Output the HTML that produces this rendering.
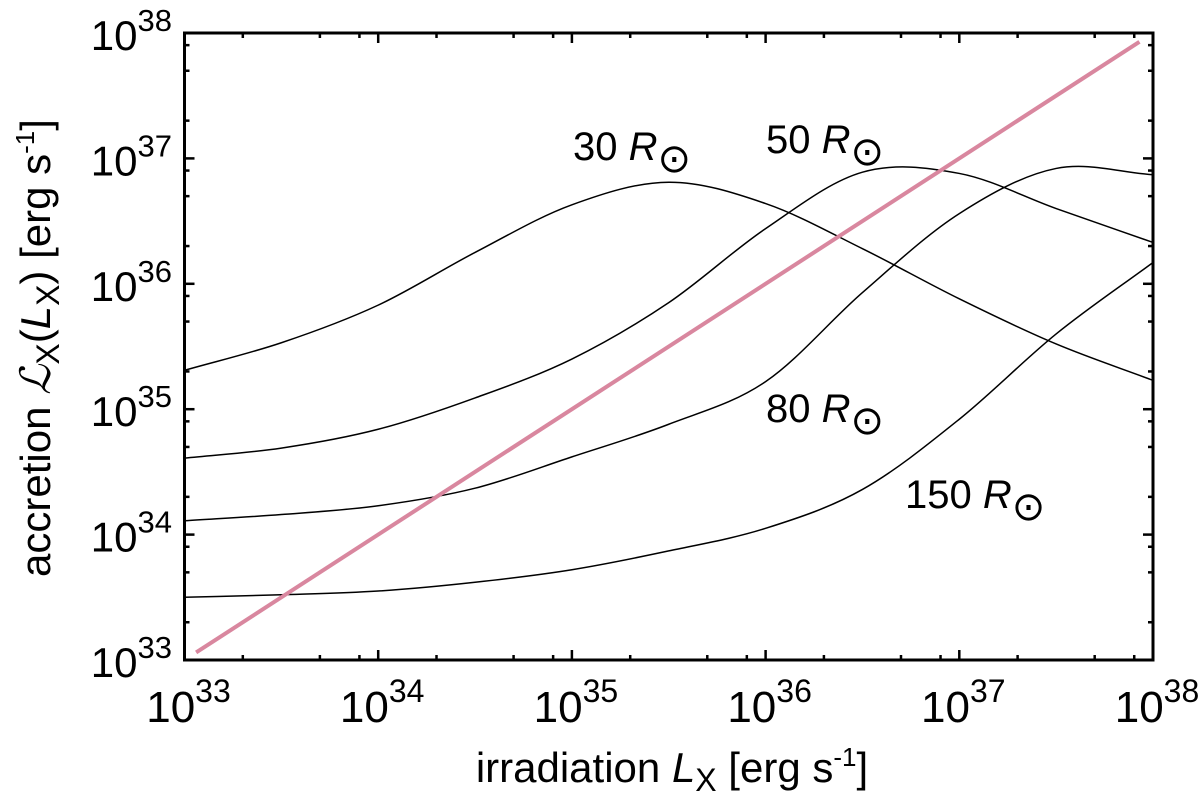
<!DOCTYPE html>
<html><head><meta charset="utf-8"><style>
body{margin:0;background:#fff}
svg{display:block;font-family:"Liberation Sans",sans-serif}
</style></head><body>
<svg id="chart" width="1200" height="800"></svg>
<script>
const xTickExps=[33,34,35,36,37,38];
const yTickExps=[33,34,35,36,37,38];
const seriesLabels=["30 R","50 R","80 R","150 R"];
const gridX=[33,33.5,34,34.5,35,35.5,36,36.5,37,37.5,38];
const s30y=[35.31,35.53,35.83,36.25,36.63,36.81,36.64,36.28,35.88,35.52,35.23];
const s50y=[34.61,34.69,34.84,35.09,35.40,35.85,36.44,36.89,36.88,36.60,36.33];
const s80y=[34.11,34.16,34.23,34.37,34.62,34.88,35.22,35.93,36.56,36.92,36.87];
const s150y=[33.50,33.52,33.55,33.62,33.72,33.87,34.05,34.36,34.92,35.60,36.17];
const eqLine=[33.06,37.93];

const L=184.5,R=1153,T=33,B=660;
const X=v=>L+(v-33)/5*(R-L);
const Y=v=>B-(v-33)/5*(B-T);
const svg=document.getElementById('chart');
const NS="http://www.w3.org/2000/svg";
function mk(t,a){const e=document.createElementNS(NS,t);for(const k in a)e.setAttribute(k,a[k]);svg.appendChild(e);return e;}

function path(xs,ys){
  const p=xs.map((x,i)=>[X(x),Y(ys[i])]);
  let d=`M${p[0][0]},${p[0][1]}`;
  for(let i=0;i<p.length-1;i++){
    const p0=p[i-1]||[2*p[i][0]-p[i+1][0],2*p[i][1]-p[i+1][1]],p1=p[i],p2=p[i+1];
    const p3=p[i+2]||[2*p2[0]-p1[0],2*p2[1]-p1[1]];
    const c1=[p1[0]+(p2[0]-p0[0])/6,p1[1]+(p2[1]-p0[1])/6];
    const c2=[p2[0]-(p3[0]-p1[0])/6,p2[1]-(p3[1]-p1[1])/6];
    d+=`C${c1[0]},${c1[1]} ${c2[0]},${c2[1]} ${p2[0]},${p2[1]}`;
  }
  return d;
}
const curves=[[s30y,'curve-30-rsun'],[s50y,'curve-50-rsun'],[s80y,'curve-80-rsun'],[s150y,'curve-150-rsun']];
curves.forEach(c=>{
  const e=mk('path',{d:path(gridX,c[0]),fill:'none',stroke:'#000','stroke-width':1.5});
  
  
});
const eq=mk('line',{x1:X(eqLine[0]),y1:Y(eqLine[0]),x2:X(eqLine[1]),y2:Y(eqLine[1]),stroke:'#d9879f','stroke-width':4});



const fr=mk('rect',{x:L,y:T,width:R-L,height:B-T,fill:'none',stroke:'#000','stroke-width':3});



const minors=[2,5,8];
for(let e=33;e<=38;e++){
  const px=X(e),py=Y(e);
  mk('line',{x1:px,y1:B,x2:px,y2:B-10,stroke:'#000','stroke-width':2.5});
  mk('line',{x1:px,y1:T,x2:px,y2:T+10,stroke:'#000','stroke-width':2.5});
  mk('line',{x1:L,y1:py,x2:L+10,y2:py,stroke:'#000','stroke-width':2.5});
  mk('line',{x1:R,y1:py,x2:R-10,y2:py,stroke:'#000','stroke-width':2.5});
  if(e<38) minors.forEach(m=>{
    const v=e+Math.log10(m),mx=X(v),my=Y(v);
    mk('line',{x1:mx,y1:B,x2:mx,y2:B-5,stroke:'#000','stroke-width':2.5});
    mk('line',{x1:mx,y1:T,x2:mx,y2:T+5,stroke:'#000','stroke-width':2.5});
    mk('line',{x1:L,y1:my,x2:L+5,y2:my,stroke:'#000','stroke-width':2.5});
    mk('line',{x1:R,y1:my,x2:R-5,y2:my,stroke:'#000','stroke-width':2.5});
  });
}
xTickExps.forEach(e=>{
  const t=mk('text',{x:X(e)+4,y:722,'text-anchor':'middle','font-size':44});
  t.innerHTML=`10<tspan dy="-20" font-size="32">${e}</tspan>`;
  
  
});
yTickExps.forEach(e=>{
  const t=mk('text',{x:172,y:Y(e)+17,'text-anchor':'end','font-size':42});
  t.innerHTML=`10<tspan dy="-19" font-size="31">${e}</tspan>`;
  
  
});

const labPos=[[573,160],[766,153],[766,422],[905,508]];
seriesLabels.forEach((s,i)=>{
  const t=mk('text',{x:labPos[i][0],y:labPos[i][1],'font-size':40});
  t.innerHTML=`${s.split(' ')[0]} <tspan font-style="italic">R</tspan><tspan dy="12" font-size="40">⊙</tspan>`;
  
  
});

const xt=mk('text',{x:672,y:782,'text-anchor':'middle','font-size':42});
xt.innerHTML='irradiation <tspan font-style="italic">L</tspan><tspan dy="9" font-size="32">X</tspan><tspan dy="-9"> [erg s</tspan><tspan dy="-16" font-size="26">-1</tspan><tspan dy="16">]</tspan>';


const yt=mk('text',{x:0,y:0,'text-anchor':'middle','font-size':42,transform:'translate(50,348) rotate(-90)'});
yt.innerHTML='accretion <tspan font-style="italic">ℒ</tspan><tspan dy="9" font-size="32">X</tspan><tspan dy="-9">(</tspan><tspan font-style="italic">L</tspan><tspan dy="9" font-size="32">X</tspan><tspan dy="-9">) [erg s</tspan><tspan dy="-16" font-size="26">-1</tspan><tspan dy="16">]</tspan>';


</script>
</body></html>
